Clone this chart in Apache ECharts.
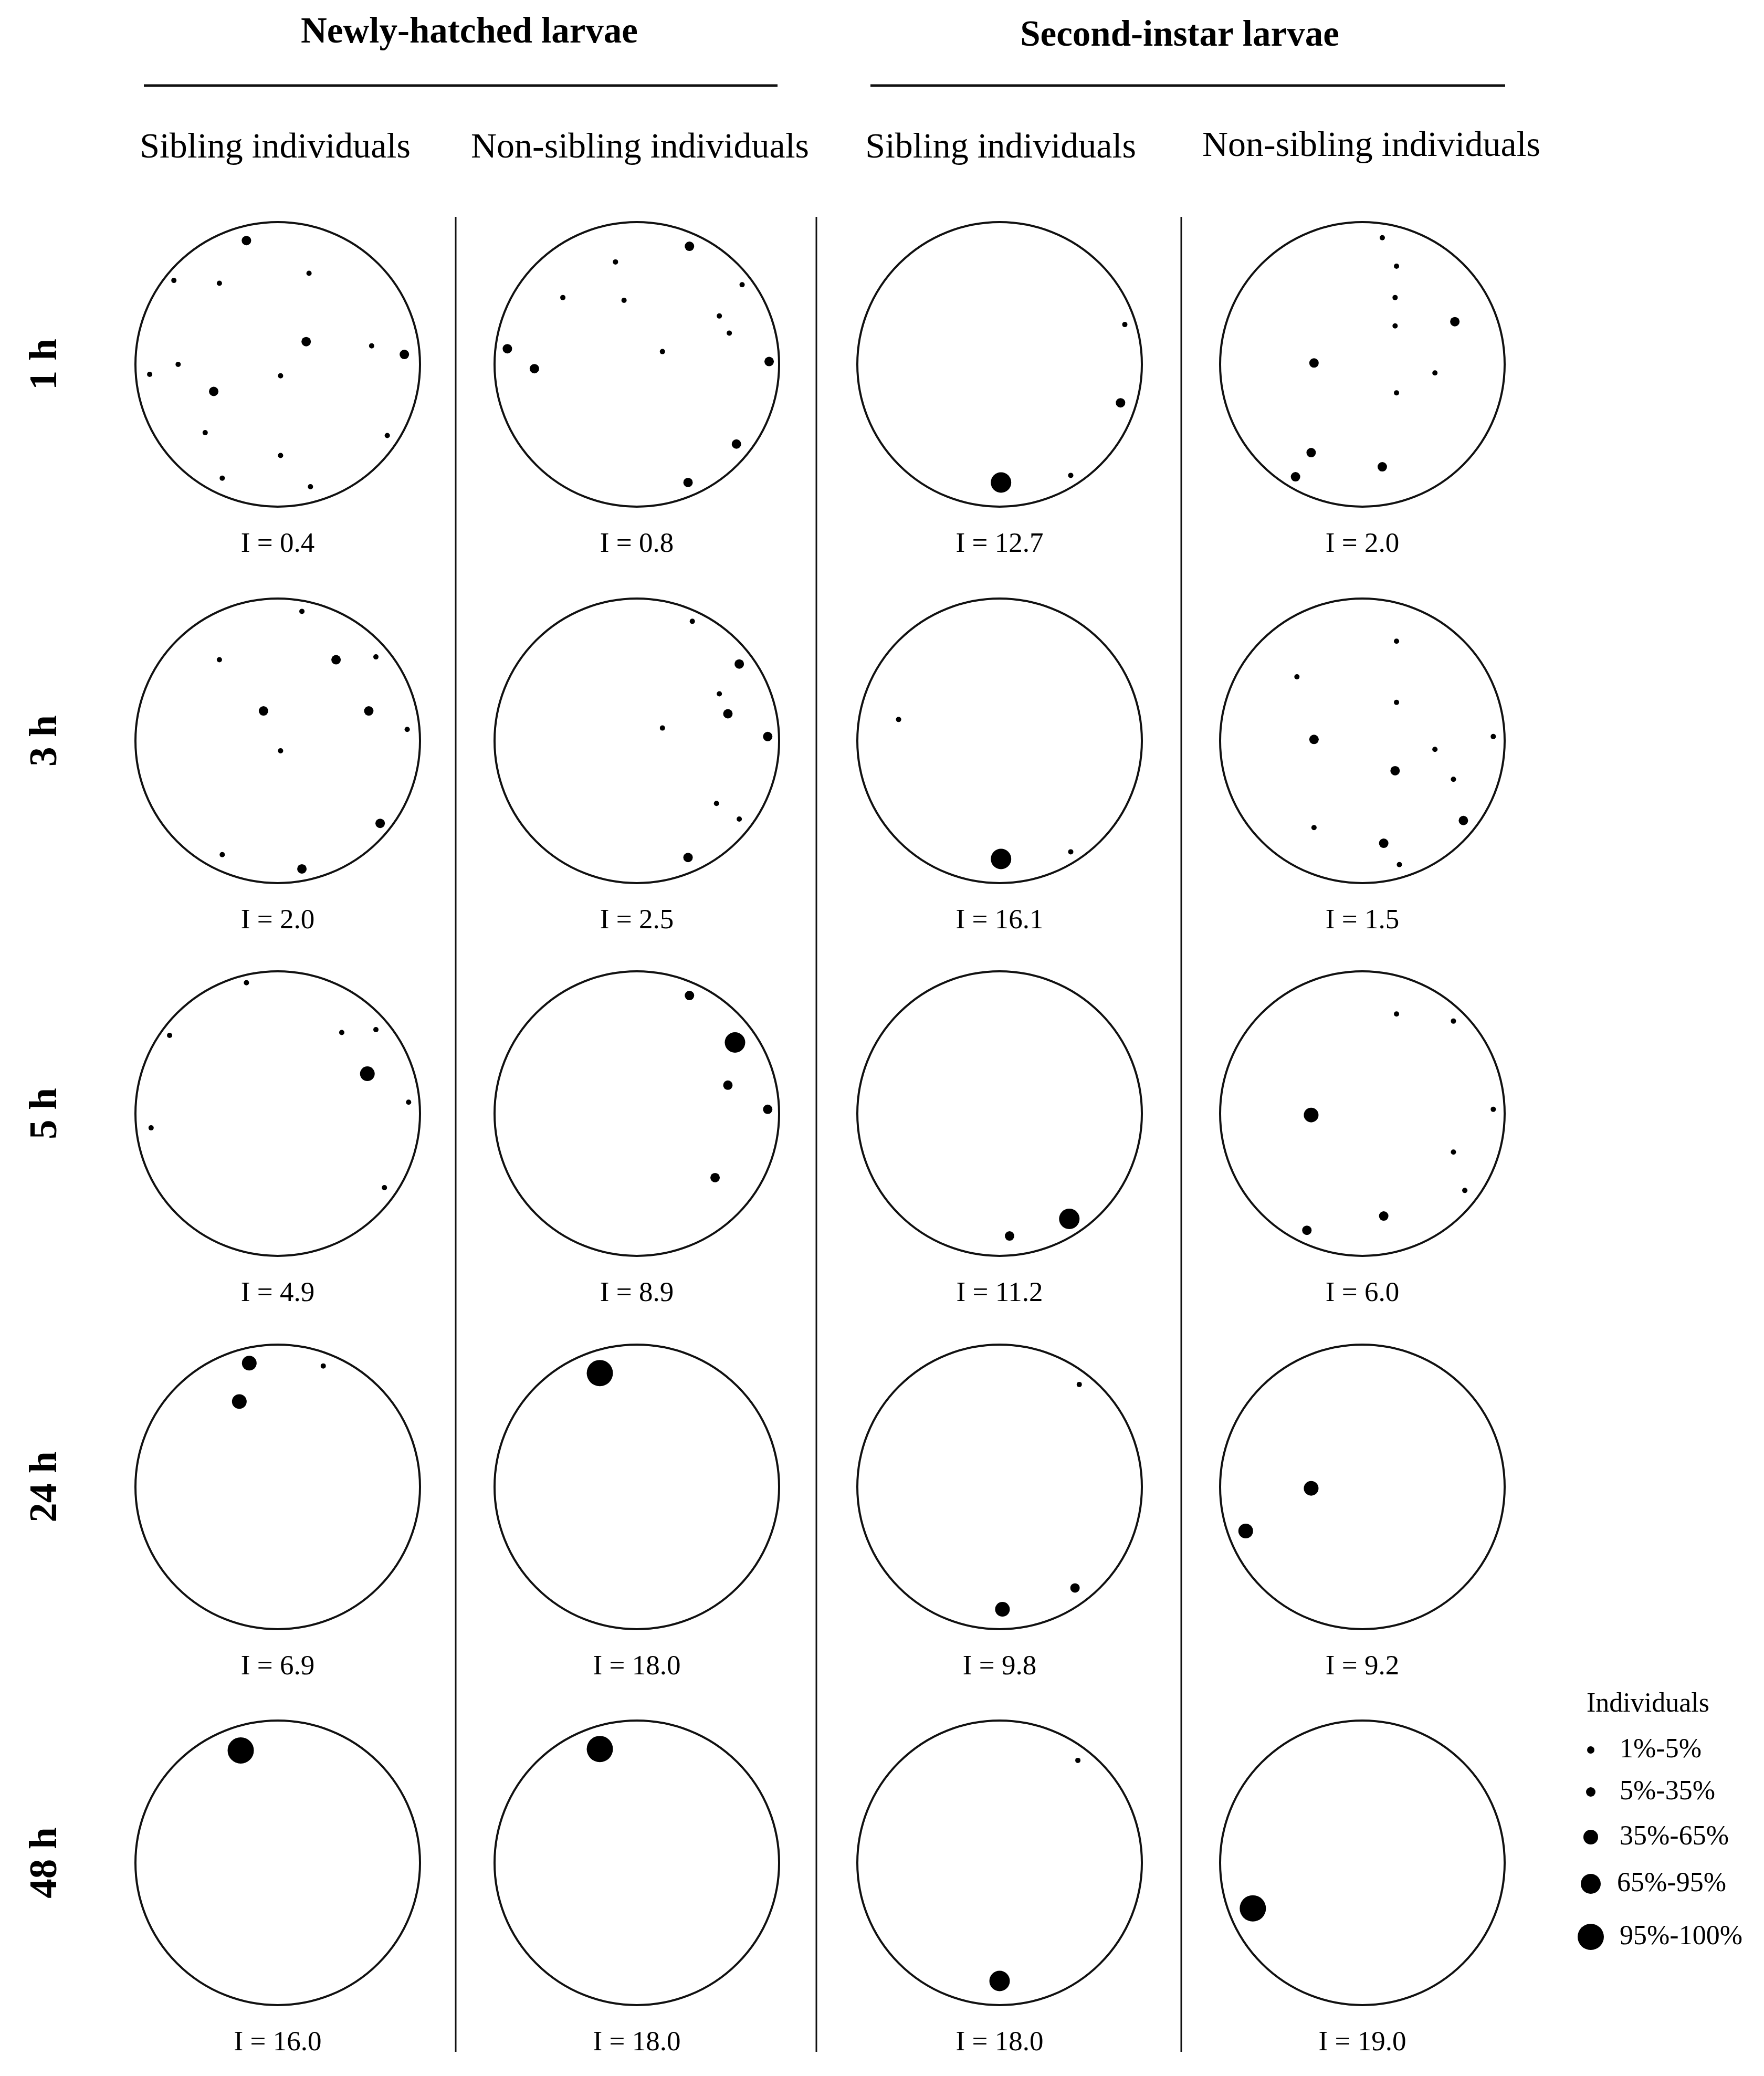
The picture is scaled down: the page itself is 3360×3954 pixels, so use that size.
<!DOCTYPE html>
<html><head><meta charset="utf-8">
<script src="https://cdn.jsdelivr.net/npm/echarts@6/dist/echarts.min.js"></script>
<style>html,body{margin:0;padding:0;background:#fff}#c{width:3360px;height:3954px}</style>
</head><body><div id="c"></div>
<script>
// ---------------- DATA ----------------
// Each dot: [x, y, sizeClass] with x,y normalised to the arena radius (x right, y down),
// sizeClass 1..5 = legend classes.
const groupTitles = ['Newly-hatched larvae', 'Second-instar larvae'];
const columnHeaders = ['Sibling individuals', 'Non-sibling individuals', 'Sibling individuals', 'Non-sibling individuals'];
const timeLabels = ['1 h', '3 h', '5 h', '24 h', '48 h'];
const legendTitle = 'Individuals';
const legendLabels = ['1%-5%', '5%-35%', '35%-65%', '65%-95%', '95%-100%'];

const iNewlySib = [0.4, 2.0, 4.9, 6.9, 16.0];
const iNewlyNon = [0.8, 2.5, 8.9, 18.0, 18.0];
const iSecondSib = [12.7, 16.1, 11.2, 9.8, 18.0];
const iSecondNon = [2.0, 1.5, 6.0, 9.2, 19.0];

const newlySib1h = [[-0.22,-0.87,2],[-0.73,-0.59,1],[-0.41,-0.57,1],[0.22,-0.64,1],[0.20,-0.16,2],[0.66,-0.13,1],[0.89,-0.07,2],[-0.70,0.00,1],[-0.90,0.07,1],[0.02,0.08,1],[-0.45,0.19,2],[-0.51,0.48,1],[0.77,0.50,1],[0.02,0.64,1],[-0.39,0.80,1],[0.23,0.86,1]];
const newlyNon1h = [[0.37,-0.83,2],[-0.15,-0.72,1],[0.74,-0.56,1],[-0.52,-0.47,1],[-0.09,-0.45,1],[0.58,-0.34,1],[0.65,-0.22,1],[-0.91,-0.11,2],[0.18,-0.09,1],[-0.72,0.03,2],[0.93,-0.02,2],[0.70,0.56,2],[0.36,0.83,2]];
const secondSib1h = [[0.88,-0.28,1],[0.85,0.27,2],[0.50,0.78,1],[0.01,0.83,4]];
const secondNon1h = [[0.14,-0.89,1],[0.24,-0.69,1],[0.23,-0.47,1],[0.23,-0.27,1],[0.65,-0.30,2],[-0.34,-0.01,2],[0.51,0.06,1],[0.24,0.20,1],[-0.36,0.62,2],[0.14,0.72,2],[-0.47,0.79,2]];

const newlySib3h = [[0.17,-0.91,1],[-0.41,-0.57,1],[0.41,-0.57,2],[0.69,-0.59,1],[-0.10,-0.21,2],[0.64,-0.21,2],[0.91,-0.08,1],[0.02,0.07,1],[0.72,0.58,2],[-0.39,0.80,1],[0.17,0.90,2]];
const newlyNon3h = [[0.39,-0.84,1],[0.72,-0.54,2],[0.58,-0.33,1],[0.64,-0.19,2],[0.18,-0.09,1],[0.92,-0.03,2],[0.56,0.44,1],[0.72,0.55,1],[0.36,0.82,2]];
const secondSib3h = [[-0.71,-0.15,1],[0.50,0.78,1],[0.01,0.83,4]];
const secondNon3h = [[0.24,-0.70,1],[-0.46,-0.45,1],[0.24,-0.27,1],[-0.34,-0.01,2],[0.92,-0.03,1],[0.51,0.06,1],[0.23,0.21,2],[0.64,0.27,1],[0.71,0.56,2],[-0.34,0.61,1],[0.15,0.72,2],[0.26,0.87,1]];

const newlySib5h = [[-0.22,-0.92,1],[-0.76,-0.55,1],[0.45,-0.57,1],[0.69,-0.59,1],[0.63,-0.28,3],[0.92,-0.08,1],[-0.89,0.10,1],[0.75,0.52,1]];
const newlyNon5h = [[0.37,-0.83,2],[0.69,-0.50,4],[0.64,-0.20,2],[0.92,-0.03,2],[0.55,0.45,2]];
const secondSib5h = [[0.49,0.74,4],[0.07,0.86,2]];
const secondNon5h = [[0.24,-0.70,1],[0.64,-0.65,1],[-0.36,0.01,3],[0.92,-0.03,1],[0.64,0.27,1],[0.72,0.54,1],[0.15,0.72,2],[-0.39,0.82,2]];

const newlySib24h = [[-0.20,-0.87,3],[-0.27,-0.60,3],[0.32,-0.85,1]];
const newlyNon24h = [[-0.26,-0.80,5]];
const secondSib24h = [[0.56,-0.72,1],[0.53,0.71,2],[0.02,0.86,3]];
const secondNon24h = [[-0.36,0.01,3],[-0.82,0.31,3]];

const newlySib48h = [[-0.26,-0.79,5]];
const newlyNon48h = [[-0.26,-0.80,5]];
const secondSib48h = [[0.55,-0.72,1],[0.00,0.83,4]];
const secondNon48h = [[-0.77,0.32,5]];

// ---------------- LAYOUT / STYLE ----------------
const panels = [
  [newlySib1h, newlyNon1h, secondSib1h, secondNon1h],
  [newlySib3h, newlyNon3h, secondSib3h, secondNon3h],
  [newlySib5h, newlyNon5h, secondSib5h, secondNon5h],
  [newlySib24h, newlyNon24h, secondSib24h, secondNon24h],
  [newlySib48h, newlyNon48h, secondSib48h, secondNon48h]
];
const iCols = [iNewlySib, iNewlyNon, iSecondSib, iSecondNon];
const colX = [529, 1213, 1904, 2595];
const rowY = [694, 1411, 2121, 2832, 3548];
const R = 271;
const dotSizes = [10, 18, 28, 39, 50];
const legendSizes = [14, 18, 28, 38, 50];
const SERIF = '"Liberation Serif", "Times New Roman", serif';

const polar = [], angleAxis = [], radiusAxis = [], series = [];
let k = 0;
for (let r = 0; r < panels.length; r++) {
  for (let c = 0; c < 4; c++) {
    polar.push({ center: [colX[c], rowY[r]], radius: R });
    angleAxis.push({
      polarIndex: k, type: 'value', min: 0, max: 360, startAngle: 0, clockwise: false,
      axisLine: { show: true, lineStyle: { color: '#111', width: 4 } },
      axisTick: { show: false }, axisLabel: { show: false }, splitLine: { show: false }, splitArea: { show: false }
    });
    radiusAxis.push({
      polarIndex: k, type: 'value', min: 0, max: 1,
      axisLine: { show: false }, axisTick: { show: false }, axisLabel: { show: false }, splitLine: { show: false }
    });
    const data = panels[r][c].map(function (d) {
      const rad = Math.hypot(d[0], d[1]);
      let ang = Math.atan2(-d[1], d[0]) * 180 / Math.PI;
      if (ang < 0) ang += 360;
      return [rad, ang, d[2]];
    });
    series.push({
      type: 'scatter', coordinateSystem: 'polar', polarIndex: k, silent: true,
      symbol: 'circle', symbolSize: function (v) { return dotSizes[v[2] - 1]; },
      itemStyle: { color: '#000', opacity: 1 }, data: data
    });
    k++;
  }
}

const graphic = [];
function txt(x, y, s, font, align, rot) {
  graphic.push({
    type: 'text', x: x, y: y, rotation: rot || 0, silent: true,
    style: { text: s, font: font, fill: '#000', textAlign: align || 'center', textVerticalAlign: 'middle' }
  });
}
function line(x1, y1, x2, y2, w) {
  graphic.push({ type: 'line', silent: true, shape: { x1: x1, y1: y1, x2: x2, y2: y2 }, style: { stroke: '#111', lineWidth: w } });
}
// group titles
txt(894, 63, groupTitles[0], 'bold 69px ' + SERIF);
txt(2247, 69, groupTitles[1], 'bold 69px ' + SERIF);
line(274, 163, 1481, 163, 5);
line(1658, 163, 2867, 163, 5);
// column headers
const headX = [524, 1219, 1906, 2612];
const headY = [282, 282, 282, 279];
for (let c = 0; c < 4; c++) txt(headX[c], headY[c], columnHeaders[c], '68px ' + SERIF);
// dividers
[868, 1555, 2250].forEach(function (x) { line(x, 413, x, 3908, 3); });
// row labels
for (let r = 0; r < timeLabels.length; r++) txt(88, rowY[r], timeLabels[r], 'bold 75px ' + SERIF, 'center', Math.PI / 2);
// I labels
for (let r = 0; r < 5; r++) for (let c = 0; c < 4; c++) {
  txt(colX[c], rowY[r] + 343, 'I = ' + iCols[c][r].toFixed(1), '53px ' + SERIF);
}
// legend
txt(3022, 3246, legendTitle, '52px ' + SERIF, 'left');
const legY = [3333, 3413, 3499, 3588, 3689];
for (let i = 0; i < legendLabels.length; i++) {
  graphic.push({ type: 'circle', silent: true, shape: { cx: 3030, cy: legY[i], r: legendSizes[i] / 2 }, style: { fill: '#000' } });
  txt(i === 3 ? 3080 : 3085, legY[i], legendLabels[i], '52px ' + SERIF, 'left');
}

const chart = echarts.init(document.getElementById('c'), null, { renderer: 'canvas', width: 3360, height: 3954 });
chart.setOption({
  backgroundColor: '#fff',
  animation: false,
  polar: polar, angleAxis: angleAxis, radiusAxis: radiusAxis,
  series: series,
  graphic: graphic
});
</script></body></html>
